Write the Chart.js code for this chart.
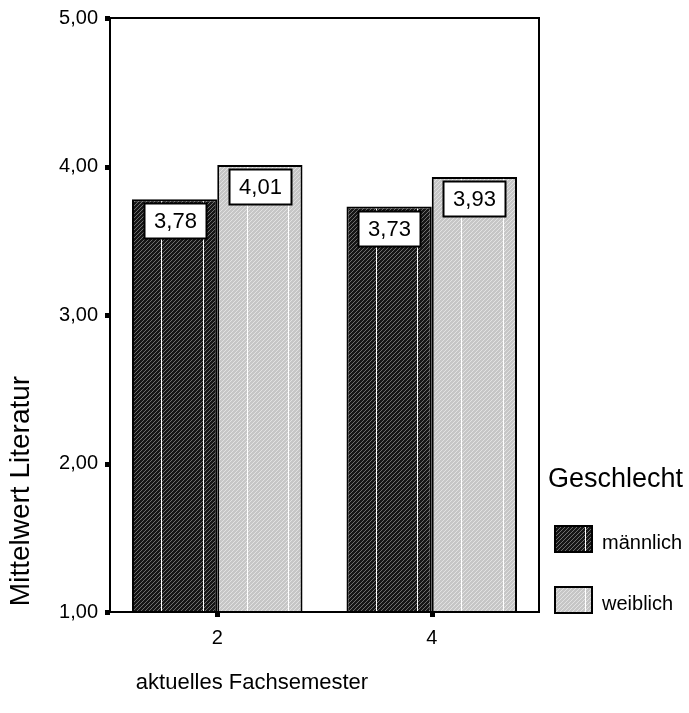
<!DOCTYPE html>
<html>
<head>
<meta charset="utf-8">
<script src="https://cdn.jsdelivr.net/npm/chart.js@4/dist/chart.umd.min.js"></script>
<style>
  html, body { margin: 0; padding: 0; background: #fff; }
  #wrap { width: 689px; height: 713px; position: relative; }
</style>
</head>
<body>
<div id="wrap"><canvas id="c" width="689" height="713"></canvas></div>
<script>
// Mean "Literatur" score by semester and gender
const semesters = ['2', '4'];
const seriesNames = ['männlich', 'weiblich'];
const maleMeans = [3.78, 3.73];
const femaleMeans = [4.01, 3.93];
const yTickValues = [1, 2, 3, 4, 5];
const yAxisTitle = 'Mittelwert Literatur';
const xAxisTitle = 'aktuelles Fachsemester';
const legendTitle = 'Geschlecht';

const FONT = "'Liberation Sans', Arial, sans-serif";
const fmt = v => v.toFixed(2).replace('.', ',');

// diagonal hatch fill
function hatch(bg, fg) {
  const t = document.createElement('canvas');
  t.width = 4; t.height = 4;
  const g = t.getContext('2d');
  g.fillStyle = bg; g.fillRect(0, 0, 4, 4);
  g.fillStyle = fg;
  for (let i = 0; i < 4; i++) g.fillRect(i, 3 - i, 1, 1);
  return document.getElementById('c').getContext('2d').createPattern(t, 'repeat');
}
const maleFill = hatch('#161616', '#6e6e6e');
const femaleFill = hatch('#c6c6c6', '#e2e2e2');
const fills = [maleFill, femaleFill];

const decor = {
  id: 'decor',
  afterDatasetsDraw(chart) {
    const ctx = chart.ctx;
    const area = chart.chartArea;
    ctx.save();
    // white vertical strokes inside each bar
    chart.data.datasets.forEach((ds, di) => {
      chart.getDatasetMeta(di).data.forEach(bar => {
        const left = bar.x - bar.width / 2;
        const offs = [0.345 * bar.width, 0.83 * bar.width];
        ctx.strokeStyle = '#ffffff';
        ctx.lineWidth = 1;
        offs.forEach(o => {
          const x = Math.round(left + o) + 0.5;
          ctx.beginPath();
          ctx.moveTo(x, bar.y + 2);
          ctx.lineTo(x, bar.base - 1);
          ctx.stroke();
        });
      });
    });
    // plot frame
    ctx.strokeStyle = '#000';
    ctx.lineWidth = 2;
    ctx.strokeRect(area.left, area.top, area.right - area.left, area.bottom - area.top);
    // tick squares
    ctx.fillStyle = '#000';
    const ys = chart.scales.y, xs = chart.scales.x;
    yTickValues.forEach(v => {
      const y = Math.round(ys.getPixelForValue(v));
      ctx.fillRect(area.left - 5, y - 2, 5, 5);
    });
    semesters.forEach((s, i) => {
      const x = Math.round(xs.getPixelForValue(i));
      ctx.fillRect(x - 2, area.bottom, 5, 5);
    });
    // value boxes
    ctx.font = '22px ' + FONT;
    ctx.textAlign = 'center';
    ctx.textBaseline = 'middle';
    chart.data.datasets.forEach((ds, di) => {
      chart.getDatasetMeta(di).data.forEach((bar, i) => {
        const w = 62, h = 35;
        const bx = Math.round(bar.x - w / 2) + 0.5;
        const by = Math.round(bar.y + 4) + 0.5;
        ctx.fillStyle = '#fff';
        ctx.fillRect(bx, by, w, h);
        ctx.strokeStyle = '#000';
        ctx.lineWidth = 2;
        ctx.strokeRect(bx, by, w, h);
        ctx.fillStyle = '#000';
        ctx.fillText(fmt(ds.data[i]), bx + w / 2, by + h / 2 + 1);
      });
    });
    // axis titles
    ctx.fillStyle = '#000';
    ctx.font = '28px ' + FONT;
    ctx.save();
    ctx.translate(21, 491);
    ctx.rotate(-Math.PI / 2);
    ctx.fillText(yAxisTitle, 0, 0);
    ctx.restore();
    ctx.font = '22px ' + FONT;
    ctx.fillText(xAxisTitle, 252, 683);
    // legend
    ctx.textAlign = 'left';
    ctx.font = '27px ' + FONT;
    ctx.fillText(legendTitle, 548, 480);
    ctx.font = '20px ' + FONT;
    const rows = [539, 600];
    seriesNames.forEach((name, i) => {
      const top = rows[i] - 13;
      ctx.fillStyle = fills[i];
      ctx.fillRect(555, top, 37, 26);
      ctx.strokeStyle = '#fff';
      ctx.lineWidth = 1;
      ctx.beginPath();
      ctx.moveTo(585.5, top + 1);
      ctx.lineTo(585.5, top + 25);
      ctx.stroke();
      ctx.strokeStyle = '#000';
      ctx.lineWidth = 2;
      ctx.strokeRect(555, top, 37, 26);
      ctx.fillStyle = '#000';
      ctx.fillText(name, 602, rows[i] + 4);
    });
    ctx.restore();
  }
};

new Chart(document.getElementById('c'), {
  type: 'bar',
  data: {
    labels: semesters,
    datasets: [
      { label: seriesNames[0], data: maleMeans, backgroundColor: maleFill },
      { label: seriesNames[1], data: femaleMeans, backgroundColor: femaleFill }
    ]
  },
  options: {
    responsive: false,
    animation: false,
    devicePixelRatio: 1,
    layout: { padding: { left: 0, right: 150, top: 18, bottom: 0 } },
    datasets: {
      bar: {
        barPercentage: 1,
        categoryPercentage: 0.795,
        borderColor: '#000',
        borderWidth: 2,
        borderSkipped: false
      }
    },
    plugins: { legend: { display: false }, tooltip: { enabled: false } },
    scales: {
      x: {
        grid: { display: false, drawTicks: false },
        border: { display: false },
        ticks: { color: '#000', font: { family: FONT, size: 20 }, padding: 14 },
        afterFit: s => { s.height = 101; s.paddingLeft = 0; s.paddingRight = 0; }
      },
      y: {
        min: 1, max: 5,
        afterBuildTicks: s => { s.ticks = yTickValues.map(v => ({ value: v })); },
        grid: { display: false, drawTicks: false },
        border: { display: false },
        ticks: { color: '#000', font: { family: FONT, size: 20 }, padding: 12, callback: v => fmt(v) },
        afterFit: s => { s.width = 110; s.paddingTop = 0; s.paddingBottom = 0; }
      }
    }
  },
  plugins: [decor]
});
</script>
</body>
</html>
